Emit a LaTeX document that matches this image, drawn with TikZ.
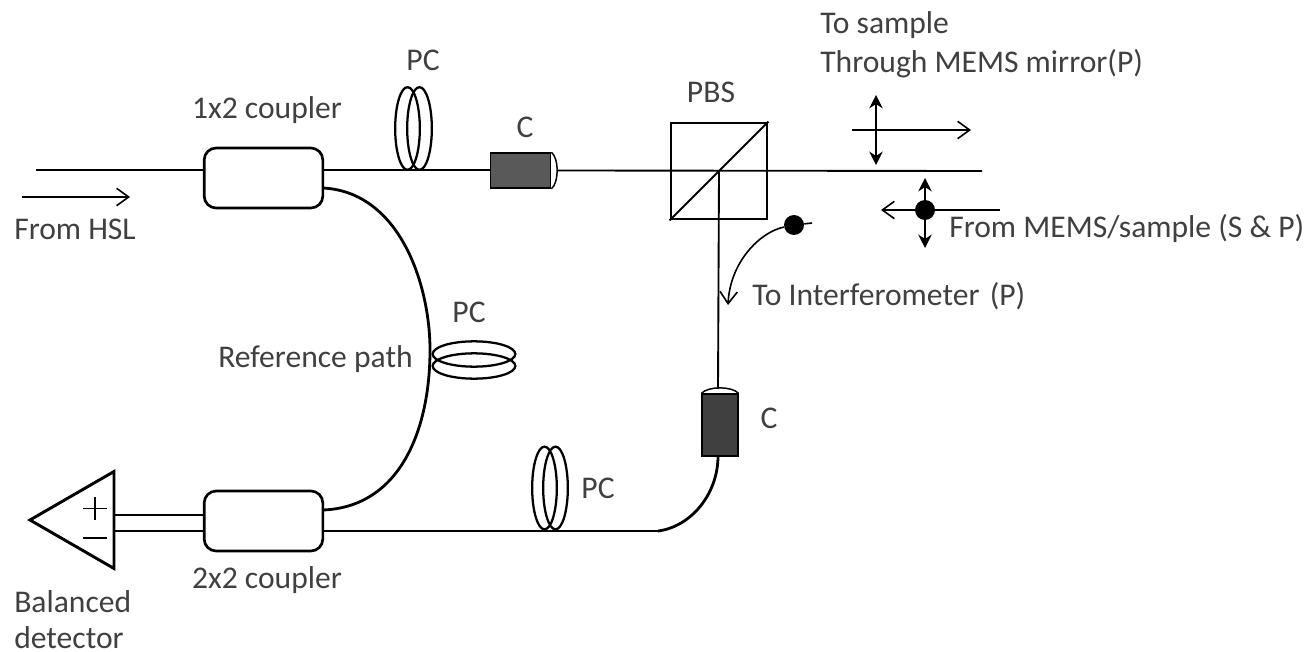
\documentclass[tikz,border=0pt]{standalone}
\usepackage{fontspec}
\setmainfont{Carlito}
\usetikzlibrary{arrows.meta,shapes.geometric}
\definecolor{txt}{HTML}{404040}
\tikzset{
  x=0.75pt,y=-0.75pt,
  lab/.style={inner sep=0pt,text=txt,font=\fontsize{23.7}{28}\selectfont,anchor=base},
  labw/.style={lab,anchor=base west},
  coupler/.style={draw,line width=2pt,rounded corners=9pt,minimum width=89pt,minimum height=45pt,inner sep=0pt},
  fibre/.style={line width=2.1pt},
  thin fibre/.style={line width=1.4pt},
  loopv/.style={draw,line width=1.7pt,ellipse,minimum width=18.5pt,minimum height=62pt,inner sep=0pt},
  looph/.style={draw,line width=1.7pt,ellipse,minimum width=62pt,minimum height=19pt,inner sep=0pt},
  dotn/.style={circle,fill=black,minimum size=15pt,inner sep=0pt},
  open/.style={-{Straight Barb[length=9pt,width=13pt,line width=1.2pt]},line width=1.2pt},
  twotip/.style={{Stealth[length=10pt,width=10pt]}-{Stealth[length=10pt,width=10pt]},line width=1.7pt}
}
\begin{document}
\begin{tikzpicture}
\useasboundingbox (0,0) rectangle (1309,652);
% couplers
\node[coupler] (c1) at (263.5,178) {};
\node[coupler] (c2) at (263.5,521) {};
% coordinates
\coordinate (hsl) at (36,170);
\coordinate (c1r) at (323,170);
\coordinate (c1rl) at (323,188);
\coordinate (c2r) at (323,531);
\coordinate (c2ru) at (323,510);
\coordinate (end) at (982,171);
\coordinate (join) at (658,531);
% collimators
\node[draw=black,line width=1.4pt,fill=black!65,minimum width=45pt,minimum height=26pt,inner sep=0pt] (col1) at (520.5,170.5) {};
\node[draw=black,line width=1.4pt,fill=black!75,minimum width=26.5pt,minimum height=46pt,inner sep=0pt] (col2) at (720,425) {};
\draw[line width=1.1pt] (col1.north east) .. controls (559,158) and (559,183) .. (col1.south east);
\draw[line width=1.1pt] (col2.north west) .. controls (708,386) and (732,386) .. (col2.north east);
% PBS
\node[draw,line width=2.2pt,minimum width=72pt,minimum height=72pt,inner sep=0pt] (pbs) at (719,171) {};
\draw[line width=1.4pt] (pbs.south west) -- (pbs.north east);
% fibres
\draw[fibre] (hsl) -- (hsl-|c1.west);
\draw[fibre] (c1r) -- (c1r-|col1.west);
\draw[thin fibre] (557,170.5) -- (end);
\draw[thin fibre] (pbs.center) -- (718,389);
\draw[fibre] (c2r) -- (join);
\draw[fibre] (join) .. controls (690,527) and (718,495) .. (718,456);
\draw[fibre] (c1rl) .. controls (400,192) and (430,285) .. (430,350) .. controls (430,430) and (400,507) .. (c2ru);
% polarization controllers
\node[loopv] (pc1a) at (407.5,128.5) {};
\node[loopv] (pc1b) at (419.5,128.5) {};
\node[loopv] (pc3a) at (544.5,488) {};
\node[loopv] (pc3b) at (555.5,488) {};
\node[looph] (pc2a) at (474,354) {};
\node[looph] (pc2b) at (474,366) {};
% detector
\node[draw,line width=2.2pt,regular polygon,regular polygon sides=3,shape border rotate=90,minimum size=84pt,inner sep=0pt,anchor=center] (det) at (86,520) {};
\draw[line width=1.4pt] (83,508.5) -- (107,508.5) (95,497) -- (95,520);
\draw[line width=1.4pt] (83,538) -- (107,538);
\draw[fibre] (114,515) -- (c2.west|-0,515);
\draw[fibre] (114,531) -- (c2.west|-0,531);
% arrows
\coordinate (a1s) at (22,197); \coordinate (a1e) at (130,197);
\draw[open] (a1s) -- (a1e);
\coordinate (a2s) at (852,130); \coordinate (a2e) at (971,130);
\draw[open] (a2s) -- (a2e);
\coordinate (a3s) at (1000,210); \coordinate (a3e) at (881,210);
\draw[open] (a3s) -- (a3e);
\coordinate (t1) at (876,95); \coordinate (t2) at (876,165);
\draw[twotip] (t1) -- (t2);
\node[dotn] (d1) at (925,210) {};
\coordinate (t3) at (925,178); \coordinate (t4) at (925,248);
\draw[twotip] (t3) -- (t4);
\node[dotn] (d2) at (794,225) {};
\coordinate (tail) at (812,223);
\coordinate (bend) at (728,305);
\draw[line width=1.2pt] (d2) -- (tail);
\draw[open] (d2) .. controls (760,232) and (730,262) .. (bend);
% labels
\node[labw] (l1) at (820,34) {To sample};
\node[labw] (l2) at (820,73) {Through MEMS mirror(P)};
\node[lab] (l3) at (423,71) {PC};
\node[lab] (l4) at (267,119) {1x2 coupler};
\node[lab] (l5) at (525,138) {C};
\node[lab] (l6) at (711,103) {PBS};
\node[labw] (l7) at (14,239) {From HSL};
\node[labw] (l8) at (949,238) {From MEMS/sample (S \& P)};
\node[labw] (l9) at (752,305) {To Interferometer\ \hspace{0.1em}(P)};
\node[lab] (l10) at (469,322) {PC};
\node[labw] (l11) at (218,367) {Reference path};
\node[lab] (l12) at (769,428) {C};
\node[lab] (l13) at (598,498) {PC};
\node[lab] (l14) at (267,588) {2x2 coupler};
\node[labw] (l15) at (14,612) {Balanced};
\node[labw] (l16) at (14,648) {detector};
\end{tikzpicture}
\end{document}
